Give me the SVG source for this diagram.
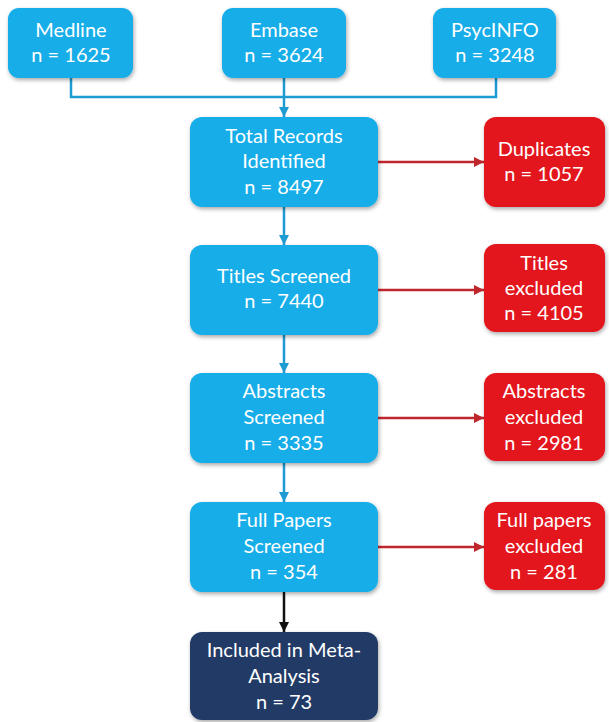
<svg xmlns="http://www.w3.org/2000/svg" width="609" height="722" viewBox="0 0 609 722">
<defs>
<filter id="sh" x="-10%" y="-10%" width="125%" height="130%">
<feGaussianBlur in="SourceAlpha" stdDeviation="2"/>
<feOffset dx="1" dy="2" result="b"/>
<feComponentTransfer><feFuncA type="linear" slope="0.35"/></feComponentTransfer>
<feMerge><feMergeNode/><feMergeNode in="SourceGraphic"/></feMerge>
</filter>
<marker id="ab" viewBox="0 0 6 6" refX="6" refY="3" markerWidth="4" markerHeight="4" orient="auto"><path d="M0,0 L6,3 L0,6 z" fill="#1E9BD2"/></marker>
<marker id="ar" viewBox="0 0 6 6" refX="6" refY="3" markerWidth="4" markerHeight="4" orient="auto"><path d="M0,0 L6,3 L0,6 z" fill="#C0272D"/></marker>
<marker id="ak" viewBox="0 0 6 6" refX="6" refY="3" markerWidth="4" markerHeight="4" orient="auto"><path d="M0,0 L6,3 L0,6 z" fill="#111"/></marker>
</defs>
<style>
.blue{fill:#14ADE8;filter:url(#sh)}
.red{fill:#E2141E;filter:url(#sh)}
.navy{fill:#213A66;filter:url(#sh)}
text{font-family:Lato,"Liberation Sans",sans-serif;font-size:20px;fill:#fff;text-anchor:middle}
.cb{stroke:#1E9BD2;stroke-width:2.5;fill:none}
.cr{stroke:#C0272D;stroke-width:2.5;fill:none}
.ck{stroke:#111;stroke-width:2.5;fill:none}
</style>
<rect width="609" height="722" fill="#fff"/>
<g id="connectors">
<path class="cb" d="M71,78 V97 H496 V78"/>
<path class="cb" d="M284,78 V117" marker-end="url(#ab)"/>
<path class="cb" d="M284,207 V245" marker-end="url(#ab)"/>
<path class="cb" d="M284,335 V373" marker-end="url(#ab)"/>
<path class="cb" d="M284,463 V502" marker-end="url(#ab)"/>
<path class="ck" d="M284,592 V632" marker-end="url(#ak)"/>
<path class="cr" d="M378,162 H484" marker-end="url(#ar)"/>
<path class="cr" d="M378,290 H484" marker-end="url(#ar)"/>
<path class="cr" d="M378,418 H484" marker-end="url(#ar)"/>
<path class="cr" d="M378,547 H484" marker-end="url(#ar)"/>
</g>
<g id="medline"><rect class="blue" x="8" y="8" width="125" height="70" rx="11"/><text x="71" y="37">Medline</text><text x="71" y="62">n = 1625</text></g>
<g id="embase"><rect class="blue" x="222" y="8" width="124" height="70" rx="11"/><text x="284" y="37">Embase</text><text x="284" y="62">n = 3624</text></g>
<g id="psycinfo"><rect class="blue" x="433" y="8" width="123" height="70" rx="11"/><text x="495" y="37">PsycINFO</text><text x="495" y="62">n = 3248</text></g>
<g id="total"><rect class="blue" x="190" y="117" width="188" height="90" rx="12"/><text x="284" y="143">Total Records</text><text x="284" y="168">Identified</text><text x="284" y="194">n = 8497</text></g>
<g id="duplicates"><rect class="red" x="484" y="117" width="121" height="90" rx="12"/><text x="544" y="156">Duplicates</text><text x="544" y="181">n = 1057</text></g>
<g id="titles"><rect class="blue" x="190" y="245" width="188" height="90" rx="12"/><text x="284" y="283">Titles Screened</text><text x="284" y="308">n = 7440</text></g>
<g id="titles-excl"><rect class="red" x="484" y="244" width="121" height="88" rx="12"/><text x="544" y="270">Titles</text><text x="544" y="295">excluded</text><text x="544" y="320">n = 4105</text></g>
<g id="abstracts"><rect class="blue" x="190" y="373" width="188" height="90" rx="12"/><text x="284" y="398">Abstracts</text><text x="284" y="424">Screened</text><text x="284" y="450">n = 3335</text></g>
<g id="abstracts-excl"><rect class="red" x="484" y="373" width="121" height="88" rx="12"/><text x="544" y="398">Abstracts</text><text x="544" y="424">excluded</text><text x="544" y="450">n = 2981</text></g>
<g id="fullpapers"><rect class="blue" x="190" y="502" width="188" height="90" rx="12"/><text x="284" y="527">Full Papers</text><text x="284" y="553">Screened</text><text x="284" y="579">n = 354</text></g>
<g id="fullpapers-excl"><rect class="red" x="484" y="502" width="121" height="88" rx="12"/><text x="544" y="527">Full papers</text><text x="544" y="553">excluded</text><text x="544" y="579">n = 281</text></g>
<g id="included"><rect class="navy" x="190" y="632" width="188" height="88" rx="12"/><text x="284" y="657">Included in Meta-</text><text x="284" y="683">Analysis</text><text x="284" y="709">n = 73</text></g>
</svg>
